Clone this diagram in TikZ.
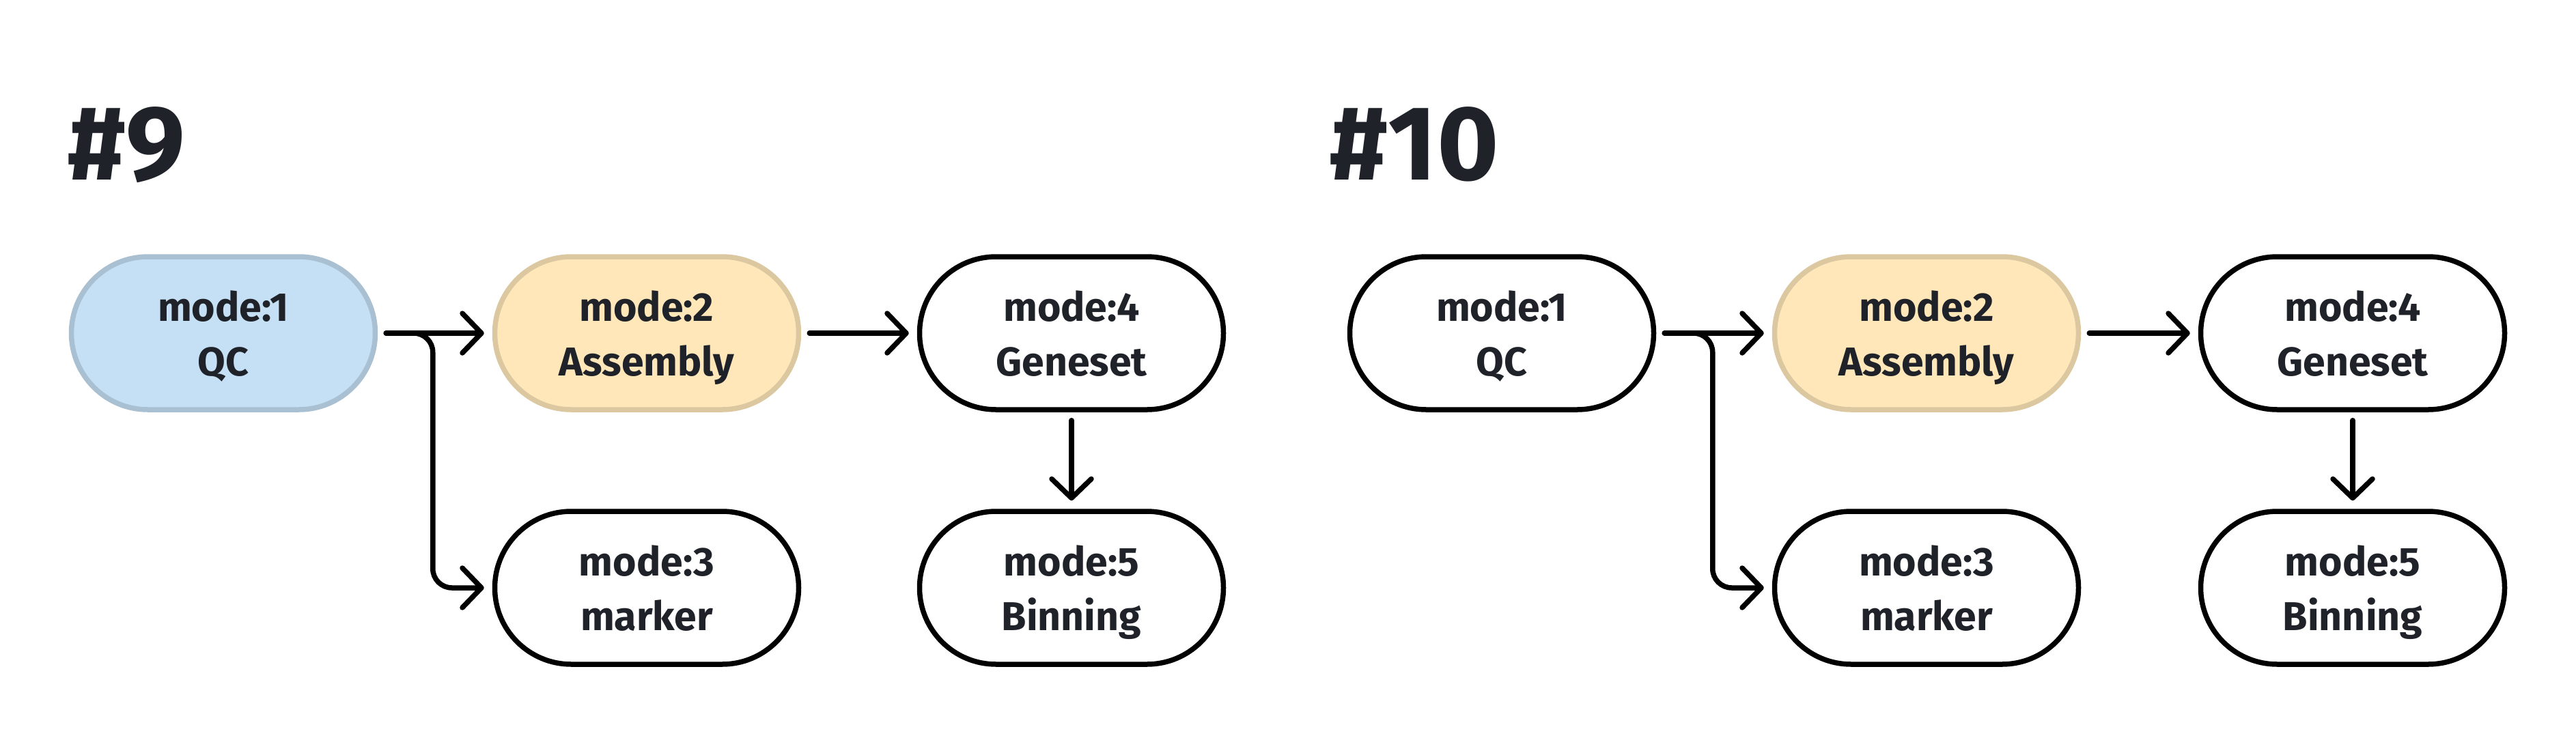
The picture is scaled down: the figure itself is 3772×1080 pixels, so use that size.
\documentclass[tikz,border=0pt]{standalone}
\usepackage{fontspec}
\setmainfont{Fira Sans}
\usetikzlibrary{arrows.meta,calc}
\definecolor{txt}{HTML}{1F2329}
\definecolor{qcfill}{HTML}{C5E0F4}
\definecolor{qcborder}{HTML}{A8C0D2}
\definecolor{asmfill}{HTML}{FFE7BA}
\definecolor{asmborder}{HTML}{DCC8A0}
\newcommand{\nodep}[1]{\raisebox{0pt}[\height][0pt]{#1}}
\tikzset{
  stage/.style={rectangle, rounded corners=112pt, minimum width=445pt, minimum height=224pt,
    inner sep=0pt, line width=7.5pt, draw=black, fill=white, text=txt, align=center,
    font=\fontsize{59}{80}\selectfont\bfseries},
  qcstage/.style={stage, draw=qcborder, fill=qcfill},
  asmstage/.style={stage, draw=asmborder, fill=asmfill},
  conn/.style={line width=7.5pt, line cap=round, line join=round, draw=black,
    shorten <=12pt, shorten >=12pt,
    -{Straight Barb[length=28pt,width=58pt,round]}},
  branch/.style={conn, rounded corners=28pt},
  title/.style={anchor=base west, inner sep=0pt, text=txt,
    font=\fontsize{155}{155}\selectfont\bfseries}
}
\begin{document}
\begin{tikzpicture}
\useasboundingbox (0pt,0pt) rectangle (3772pt,-1080pt);
% panel #9
\node[title] (t9) at (98pt,-263pt) {\#9};
\node[qcstage]  (a1) at (327pt,-488pt) {mode:1\\\nodep{QC}};
\node[asmstage] (a2) at (947pt,-488pt) {mode:2\\\nodep{Assembly}};
\node[stage]    (a4) at (1569pt,-488pt) {mode:4\\\nodep{Geneset}};
\node[stage]    (a3) at (947pt,-861pt) {mode:3\\\nodep{marker}};
\node[stage]    (a5) at (1569pt,-861pt) {mode:5\\\nodep{Binning}};
\draw[conn] (a1) -- (a2);
\draw[branch] (a1.east) -- ([xshift=-87pt]a3.west |- a1.east) -- ([xshift=-87pt]a3.west) -- (a3.west);
\draw[conn] (a2) -- (a4);
\draw[conn] (a4) -- (a5);
% panel #10
\node[title] (t10) at (1946pt,-263pt) {\#10};
\node[stage]    (b1) at (2199pt,-488pt) {mode:1\\\nodep{QC}};
\node[asmstage] (b2) at (2821pt,-488pt) {mode:2\\\nodep{Assembly}};
\node[stage]    (b4) at (3445pt,-488pt) {mode:4\\\nodep{Geneset}};
\node[stage]    (b3) at (2821pt,-861pt) {mode:3\\\nodep{marker}};
\node[stage]    (b5) at (3445pt,-861pt) {mode:5\\\nodep{Binning}};
\draw[conn] (b1) -- (b2);
\draw[branch] (b1.east) -- ([xshift=-87pt]b3.west |- b1.east) -- ([xshift=-87pt]b3.west) -- (b3.west);
\draw[conn] (b2) -- (b4);
\draw[conn] (b4) -- (b5);
\end{tikzpicture}
\end{document}
